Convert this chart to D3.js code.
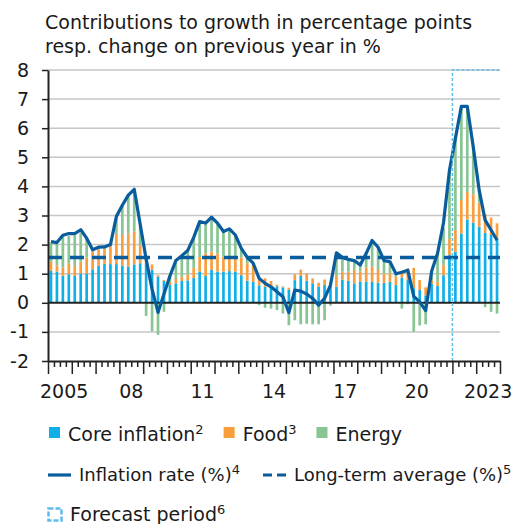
<!DOCTYPE html>
<html>
<head>
<meta charset="utf-8">
<script src="https://cdn.jsdelivr.net/npm/d3@7"></script>
<style>
  html, body { margin: 0; padding: 0; background: #fff; }
  svg { display: block; font-family: "DejaVu Sans", sans-serif; }
</style>
</head>
<body>
<svg id="chart" width="521" height="524"></svg>
<script>
// Quarterly contributions to HICP inflation, 2005 Q1 - 2023 Q4
const startYear = 2005;
const endYear = 2023;

// Core inflation contribution (percentage points)
const core = [
  1.10, 1.07, 0.93, 0.98,
  0.92, 1.01, 1.01, 1.15,
  1.28, 1.34, 1.33, 1.33,
  1.28, 1.24, 1.32, 1.36,
  1.33, 1.13, 0.90, 0.75,
  0.61, 0.67, 0.75, 0.77,
  0.85, 1.07, 0.92, 1.13,
  1.07, 1.07, 1.09, 1.07,
  0.95, 0.76, 0.72, 0.60,
  0.55, 0.55, 0.57, 0.53,
  0.46, 0.78, 0.92, 0.76,
  0.67, 0.55, 0.61, 0.55,
  0.55, 0.80, 0.76, 0.67,
  0.72, 0.72, 0.72, 0.69,
  0.69, 0.72, 0.61, 0.87,
  0.78, 0.50, 0.44, 0.25,
  0.65, 0.58, 0.95, 1.64,
  1.75, 2.38, 2.86, 2.75,
  2.61, 2.40, 2.33, 2.18
];

// Food contribution (percentage points)
const food = [
  0.31, 0.21, 0.29, 0.38,
  0.34, 0.40, 0.55, 0.61,
  0.56, 0.51, 0.72, 1.04,
  1.05, 1.15, 1.13, 0.63,
  0.20, 0.19, 0.05, 0.03,
  0.11, 0.15, 0.14, 0.20,
  0.35, 0.50, 0.78, 0.63,
  0.63, 0.52, 0.50, 0.54,
  0.61, 0.60, 0.58, 0.28,
  0.29, 0.20, 0.05, 0.03,
  0.06, 0.20, 0.22, 0.25,
  0.17, 0.14, 0.19, 0.17,
  0.37, 0.27, 0.31, 0.46,
  0.35, 0.50, 0.52, 0.44,
  0.32, 0.29, 0.29, 0.23,
  0.40, 0.70, 0.34, 0.28,
  0.12, 0.14, 0.34, 0.55,
  0.75, 1.15, 0.95, 0.98,
  0.83, 0.65, 0.60, 0.55
];

// Energy contribution (percentage points)
const energy = [
  0.66, 0.74, 1.06, 0.94,
  1.06, 1.00, 0.66, 0.06,
  0.07, 0.07, 0.00, 0.60,
  1.02, 1.27, 1.45, 0.66,
  -0.45, -0.98, -1.10, -0.31,
  0.25, 0.55, 0.73, 0.83,
  1.05, 1.22, 1.04, 1.18,
  1.04, 0.86, 0.95, 0.72,
  0.31, 0.20, 0.06, -0.08,
  -0.17, -0.20, -0.25, -0.37,
  -0.77, -0.60, -0.74, -0.72,
  -0.74, -0.74, -0.60, -0.10,
  0.80, 0.49, 0.42, 0.32,
  0.23, 0.48, 0.90, 0.78,
  0.44, 0.40, 0.08, -0.20,
  -0.05, -1.00, -0.78, -0.74,
  0.30, 0.95, 1.30, 2.30,
  3.15, 3.22, 2.93, 1.63,
  0.43, -0.15, -0.31, -0.37
];

// Headline inflation rate (%)
const inflation = [
  2.10, 2.07, 2.32, 2.38,
  2.38, 2.51, 2.22, 1.82,
  1.91, 1.92, 2.00, 2.97,
  3.35, 3.70, 3.90, 2.70,
  1.50, 0.47, -0.33, 0.30,
  0.92, 1.45, 1.62, 1.80,
  2.25, 2.79, 2.74, 2.94,
  2.74, 2.45, 2.54, 2.33,
  1.87, 1.56, 1.36, 0.84,
  0.67, 0.55, 0.38, 0.21,
  -0.34, 0.44, 0.40, 0.30,
  0.15, -0.08, 0.15, 0.61,
  1.72, 1.56, 1.49, 1.45,
  1.30, 1.70, 2.14, 1.91,
  1.45, 1.41, 1.00, 1.05,
  1.12, 0.22, 0.03, -0.27,
  1.08, 1.70, 2.75, 4.55,
  5.65, 6.75, 6.75, 5.36,
  3.87, 2.84, 2.50, 2.15
];

const longTermAverage = 1.56;
const forecastStart = 2022;

const yTicks = [8, 7, 6, 5, 4, 3, 2, 1, 0, -1, -2];
const xLabelYears = [2005, 2008, 2011, 2014, 2017, 2020, 2023];
const xLabelTexts = ["2005", "08", "11", "14", "17", "20", "2023"];

const titleLines = [
  "Contributions to growth in percentage points",
  "resp. change on previous year in %"
];

const colors = {
  core: "#10afe8",
  food: "#f99e3c",
  energy: "#87c592",
  line: "#0a5d9c",
  forecast: "#5cbbe9",
  grid: "#c6c6c6",
  axis: "#222222",
  text: "#1a1a1a"
};

const svg = d3.select("#chart");
const plot = { left: 48, right: 500, top: 70, bottom: 361 };

const x = d3.scaleLinear().domain([startYear, endYear + 1]).range([plot.left, plot.right]);
const y = d3.scaleLinear().domain([-2, 8]).range([plot.bottom, plot.top]);

const rows = core.map((c, i) => ({
  t: startYear + (i + 0.5) / 4,
  core: c, food: food[i], energy: energy[i], inflation: inflation[i]
}));

// Title
svg.append("g").selectAll("text").data(titleLines).join("text")
  .attr("x", 45).attr("y", (d, i) => 29 + i * 24)
  .attr("font-size", 19).attr("fill", colors.text)
  .text(d => d);

// Gridlines
svg.append("g").selectAll("line")
  .data(yTicks.filter(v => v !== 0 && v !== -2))
  .join("line")
  .attr("x1", plot.left).attr("x2", plot.right)
  .attr("y1", d => y(d)).attr("y2", d => y(d))
  .attr("stroke", colors.grid).attr("stroke-width", 1.5);

// Stacked bars (negative energy contributions hang below zero)
const keys = ["core", "food", "energy"];
const series = d3.stack().keys(keys).offset(d3.stackOffsetDiverging)(rows);
const step = x(startYear + 0.25) - x(startYear);
const barW = step * 0.45;

svg.append("g").selectAll("g").data(series).join("g")
  .attr("fill", d => colors[d.key])
  .selectAll("rect").data(d => d).join("rect")
  .attr("x", d => x(d.data.t) - barW / 2)
  .attr("width", barW)
  .attr("y", d => y(Math.max(d[0], d[1])))
  .attr("height", d => Math.abs(y(d[0]) - y(d[1])));

// Zero line
svg.append("line")
  .attr("x1", plot.left).attr("x2", plot.right)
  .attr("y1", y(0)).attr("y2", y(0))
  .attr("stroke", colors.axis).attr("stroke-width", 2);

// Long-term average
svg.append("line")
  .attr("x1", plot.left).attr("x2", plot.right)
  .attr("y1", y(longTermAverage)).attr("y2", y(longTermAverage))
  .attr("stroke", colors.line).attr("stroke-width", 3.5)
  .attr("stroke-dasharray", "14,8");

// Inflation rate line
svg.append("path")
  .datum(rows)
  .attr("fill", "none")
  .attr("stroke", colors.line).attr("stroke-width", 3.2)
  .attr("stroke-linejoin", "round")
  .attr("d", d3.line().x(d => x(d.t)).y(d => y(d.inflation)));

// Forecast period frame
svg.append("path")
  .attr("d", `M${x(forecastStart)},${plot.bottom}V${plot.top}H${plot.right}`)
  .attr("fill", "none")
  .attr("stroke", colors.forecast).attr("stroke-width", 1.5)
  .attr("stroke-dasharray", "3,2");

// Y axis
const yAxis = svg.append("g")
  .attr("transform", `translate(${plot.left},0)`)
  .call(d3.axisLeft(y).tickValues(yTicks).tickSize(6).tickSizeOuter(0).tickPadding(13)
    .tickFormat(d => String(d)));
yAxis.select(".domain").attr("stroke", colors.axis).attr("stroke-width", 2);
yAxis.selectAll(".tick line").attr("stroke", colors.axis).attr("stroke-width", 1.5);
yAxis.selectAll(".tick text").attr("font-size", 19).attr("fill", colors.text)
  .attr("font-family", "DejaVu Sans");

// X axis: quarter and year ticks
const quarterTicks = d3.range(startYear * 4, (endYear + 1) * 4 + 1).map(q => q / 4).filter(v => v % 1 !== 0);
const yearTicks = d3.range(startYear, endYear + 2);

const xMinor = svg.append("g")
  .attr("transform", `translate(0,${plot.bottom})`)
  .call(d3.axisBottom(x).tickValues(quarterTicks).tickSize(6).tickSizeOuter(0).tickFormat(""));
xMinor.select(".domain").remove();
xMinor.selectAll(".tick line").attr("stroke", colors.axis).attr("stroke-width", 1.5);

const xMajor = svg.append("g")
  .attr("transform", `translate(0,${plot.bottom})`)
  .call(d3.axisBottom(x).tickValues(yearTicks).tickSize(13).tickSizeOuter(0).tickFormat(""));
xMajor.select(".domain").attr("stroke", colors.axis).attr("stroke-width", 2);
xMajor.selectAll(".tick line").attr("stroke", colors.axis).attr("stroke-width", 1.5);

svg.append("g").selectAll("text").data(xLabelYears).join("text")
  .attr("x", (d, i) => i === 0 ? x(d) - 8 : x(d + 0.5))
  .attr("y", 398)
  .attr("text-anchor", (d, i) => i === 0 ? "start" : "middle")
  .attr("font-size", 19).attr("fill", colors.text)
  .text((d, i) => xLabelTexts[i]);

// Legend
const legend = svg.append("g").attr("fill", colors.text);

function addLabel(g, xPos, yPos, label, sup, size) {
  const t = g.append("text").attr("x", xPos).attr("y", yPos)
    .attr("font-size", size).text(label);
  if (sup) t.append("tspan").attr("font-size", 13).attr("dy", -7).text(sup);
  return t.node().getComputedTextLength();
}

// Row 1: bar components
const row1 = [
  { label: "Core inflation", sup: "2", color: colors.core },
  { label: "Food", sup: "3", color: colors.food },
  { label: "Energy", sup: "", color: colors.energy }
];
let lx = 49;
row1.forEach(item => {
  legend.append("rect").attr("x", lx).attr("y", 427).attr("width", 11).attr("height", 11)
    .attr("fill", item.color);
  const w = addLabel(legend, lx + 19, 441, item.label, item.sup, 19);
  lx = lx + 19 + w + 20;
});

// Row 2: lines
legend.append("line").attr("x1", 48).attr("x2", 71).attr("y1", 475).attr("y2", 475)
  .attr("stroke", colors.line).attr("stroke-width", 3.2);
addLabel(legend, 79, 481, "Inflation rate (%)", "4", 18);
legend.append("line").attr("x1", 263).attr("x2", 286).attr("y1", 475).attr("y2", 475)
  .attr("stroke", colors.line).attr("stroke-width", 3.2).attr("stroke-dasharray", "9,5");
addLabel(legend, 294, 481, "Long-term average (%)", "5", 18);

// Row 3: forecast period
legend.append("rect").attr("x", 48.5).attr("y", 508.5).attr("width", 13).attr("height", 12)
  .attr("fill", "none").attr("stroke", colors.forecast).attr("stroke-width", 2.5)
  .attr("stroke-dasharray", "5,2");
addLabel(legend, 70, 521, "Forecast period", "6", 19);
</script>
</body>
</html>
